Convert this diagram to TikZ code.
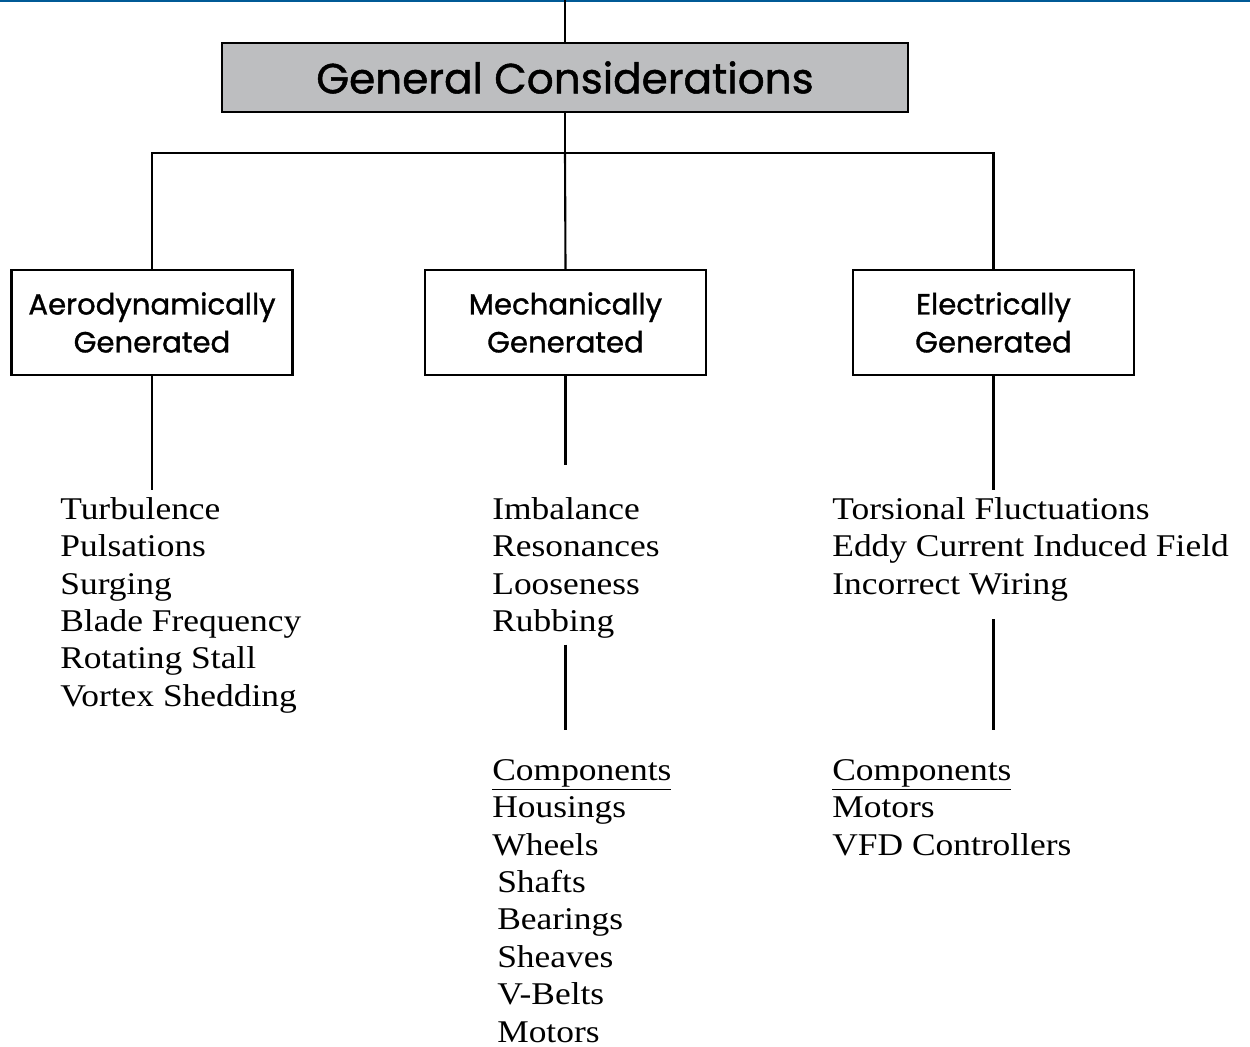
\documentclass[tikz,border=0pt]{standalone}
\usepackage{fontspec}
\setmainfont[FakeStretch=1.12]{Liberation Serif}
\newfontfamily\boxfont[FakeBold=1.2]{Poppins}
\usetikzlibrary{positioning}
\definecolor{ruleblue}{RGB}{0,90,150}
\definecolor{headgray}{RGB}{189,190,192}

\begin{document}
\begin{tikzpicture}[x=0.02cm, y=-0.02cm,
  head/.style={draw=black, fill=headgray, line width=1.4pt,
    minimum width=13.72cm, minimum height=1.38cm,
    font=\boxfont\fontsize{24}{28}\selectfont},
  cat/.style={draw=black, line width=1.3pt,
    minimum width=5.62cm, minimum height=2.1cm, align=center,
    font=\boxfont\fontsize{16.6}{21.6}\selectfont},
  lst/.style={anchor=north west, inner sep=0pt, align=left,
    font=\fontsize{18}{21.3}\selectfont},
  ln/.style={line width=1.2pt}
]
  \useasboundingbox (0,0) rectangle (1250,1047);
  \draw[ruleblue, line width=1.2pt] (0,1) -- (1250,1);

  \node[head] (gc) at (565,77.5) {General Considerations};
  \node[cat] (aero) at (152,322.5) {Aerodynamically\\Generated};
  \node[cat] (mech) at (565.5,322.5) {Mechanically\\Generated};
  \node[cat] (elec) at (993.5,322.5) {Electrically\\Generated};

  \node[lst] (alist) at (60,497)
    {Turbulence\\Pulsations\\Surging\\Blade Frequency\\Rotating Stall\\Vortex Shedding};
  \node[lst] (mlist) at (492,497)
    {Imbalance\\Resonances\\Looseness\\Rubbing};
  \node[lst] (elist) at (832,497)
    {Torsional Fluctuations\\Eddy Current Induced Field\\Incorrect Wiring};
  \node[lst] (mcomp) at (492,759)
    {\underline{Components}\\Housings\\Wheels\\\hspace*{2.8pt}Shafts\\\hspace*{2.8pt}Bearings\\
     \hspace*{2.8pt}Sheaves\\\hspace*{2.8pt}V-Belts\\\hspace*{2.8pt}Motors};
  \node[lst] (ecomp) at (832,759)
    {\underline{Components}\\Motors\\VFD Controllers};

  % tree lines
  \coordinate (top) at (565,0);
  \draw[ln] (top) -- (gc);
  \draw[ln] (gc.south) -- (gc.south |- 0,153) coordinate (bar);
  \draw[ln] (aero.north) |- (bar) -| (elec.north);
  \draw[ln] (bar) -- (mech.north);
  \draw[ln, shorten >=0.14cm] (aero.south) -- (aero.south |- alist.north);
  \draw[ln, shorten >=0.64cm] (mech.south) -- (mech.south |- mlist.north);
  \draw[ln, shorten >=0.14cm] (elec.south) -- (elec.south |- elist.north);
  \draw[ln, shorten <=0.12cm, shorten >=0.58cm]
    (mech.south |- mlist.south) -- (mech.south |- mcomp.north);
  \draw[ln, shorten <=0.36cm, shorten >=0.58cm]
    (elec.south |- elist.south) -- (elec.south |- ecomp.north);
\end{tikzpicture}
\end{document}
